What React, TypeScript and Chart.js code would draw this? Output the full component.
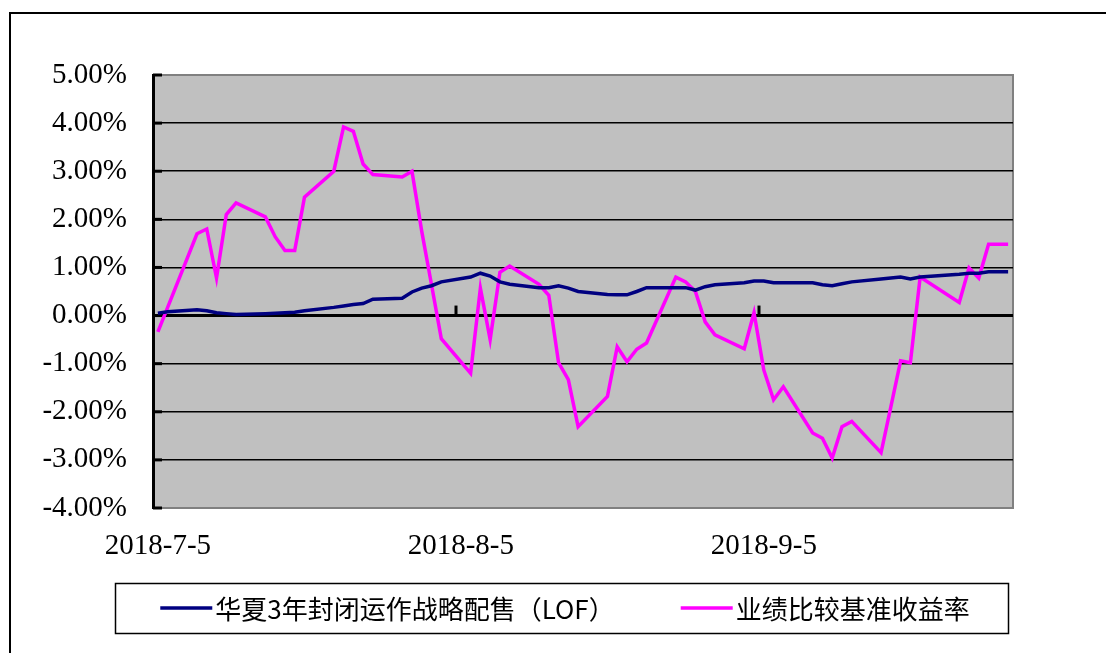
import React, { useEffect, useRef } from 'react';
import { Chart, registerables } from 'chart.js';

Chart.register(...registerables);

// Trading dates (plus period-end date)
const dates: string[] = [
  '2018-07-05', '2018-07-06', '2018-07-09', '2018-07-10', '2018-07-11', '2018-07-12', '2018-07-13',
  '2018-07-16', '2018-07-17', '2018-07-18', '2018-07-19', '2018-07-20', '2018-07-23', '2018-07-24',
  '2018-07-25', '2018-07-26', '2018-07-27', '2018-07-30', '2018-07-31',
  '2018-08-01', '2018-08-02', '2018-08-03', '2018-08-06', '2018-08-07', '2018-08-08', '2018-08-09',
  '2018-08-10', '2018-08-13', '2018-08-14', '2018-08-15', '2018-08-16', '2018-08-17', '2018-08-20',
  '2018-08-21', '2018-08-22', '2018-08-23', '2018-08-24', '2018-08-27', '2018-08-28', '2018-08-29',
  '2018-08-30', '2018-08-31',
  '2018-09-03', '2018-09-04', '2018-09-05', '2018-09-06', '2018-09-07', '2018-09-10', '2018-09-11',
  '2018-09-12', '2018-09-13', '2018-09-14', '2018-09-17', '2018-09-18', '2018-09-19', '2018-09-20',
  '2018-09-21', '2018-09-25', '2018-09-26', '2018-09-27', '2018-09-28', '2018-09-30',
];

// 华夏3年封闭运作战略配售（LOF） cumulative return, %
const fundReturn: number[] = [
  0.05, 0.08, 0.12, 0.10, 0.06, 0.04, 0.02, 0.04, 0.05, 0.06, 0.07, 0.10, 0.17, 0.20, 0.23, 0.25, 0.34, 0.36, 0.49,
  0.57, 0.62, 0.70, 0.80, 0.88, 0.82, 0.70, 0.65, 0.58, 0.58, 0.62, 0.57, 0.50, 0.44, 0.43, 0.43, 0.50, 0.58, 0.58,
  0.58, 0.53, 0.60, 0.64,
  0.68, 0.72, 0.72, 0.68, 0.68, 0.68, 0.64, 0.62, 0.66, 0.70, 0.76, 0.78, 0.80, 0.76, 0.80, 0.86, 0.88, 0.88, 0.91, 0.91,
];

// 业绩比较基准收益率, %
const benchmarkReturn: number[] = [
  -0.34, 0.17, 1.70, 1.80, 0.78, 2.10, 2.34, 2.05, 1.64, 1.35, 1.35, 2.46, 3.00, 3.92, 3.83, 3.15, 2.93, 2.88, 3.00,
  1.75, 0.64, -0.48, -1.20, 0.57, -0.50, 0.90, 1.03, 0.65, 0.42, -0.98, -1.33, -2.31, -1.68, -0.65, -0.96, -0.70,
  -0.57, 0.80, 0.70, 0.50, -0.13, -0.40,
  -0.69, 0.06, -1.13, -1.75, -1.48, -2.44, -2.55, -2.96, -2.31, -2.20, -2.85, -1.90, -0.94, -0.98, 0.80, 0.27,
  0.99, 0.78, 1.48, 1.48,
];

const xTickLabels: string[] = ['2018-7-5', '2018-8-5', '2018-9-5'];
const yMin = -4;
const yMax = 5;
const yStep = 1;

const seriesNames: string[] = ['华夏3年封闭运作战略配售（LOF）', '业绩比较基准收益率'];
const seriesColors: string[] = ['#000080', '#FF00FF'];

const DAY_MS = 86400000;
const toDay = (s: string) => {
  const [y, m, d] = s.split('-').map(Number);
  return Date.UTC(y, m - 1, d) / DAY_MS;
};
const day0 = toDay(dates[0]);
const dayIndex = dates.map((s) => toDay(s) - day0);
const tickDays = xTickLabels.map((s) => toDay(s) - day0);

const SERIF = '"Liberation Serif", "Times New Roman", serif';
const CJK = '"Noto Sans CJK SC", "Noto Sans", sans-serif';

const plotPlugin = {
  id: 'plotDecor',
  beforeDraw(chart: any) {
    const { ctx, chartArea: a } = chart;
    ctx.save();
    ctx.fillStyle = '#C0C0C0';
    ctx.fillRect(a.left, a.top, a.right - a.left, a.bottom - a.top);
    ctx.strokeStyle = '#808080';
    ctx.lineWidth = 2;
    ctx.strokeRect(a.left, a.top, a.right - a.left, a.bottom - a.top);
    ctx.restore();
  },
  beforeDatasetsDraw(chart: any) {
    const { ctx, chartArea: a, scales } = chart;
    const xs = scales.x;
    const ys = scales.y;
    const zeroY = ys.getPixelForValue(0);
    ctx.save();
    ctx.strokeStyle = '#000';
    ctx.lineWidth = 3;
    // tick marks on the category (zero) axis, at slot boundaries
    tickDays.forEach((d) => {
      const px = Math.round(xs.getPixelForValue(d - 0.5));
      if (px <= a.left + 2) return;
      ctx.beginPath();
      ctx.moveTo(px, zeroY);
      ctx.lineTo(px, zeroY - 10);
      ctx.stroke();
    });
    // value-axis tick marks (inside)
    for (let v = yMin; v <= yMax; v += yStep) {
      const py = ys.getPixelForValue(v);
      ctx.beginPath();
      ctx.moveTo(a.left, py);
      ctx.lineTo(a.left + 9, py);
      ctx.stroke();
    }
    ctx.restore();
  },
  afterDraw(chart: any) {
    const { ctx } = chart;
    const cy = 608;
    const lineLen = 52;
    const gap = 3;
    const spacing = 66;
    ctx.save();
    ctx.font = `26px ${CJK}`;
    const widths = seriesNames.map((n) => ctx.measureText(n).width);
    const total = widths.reduce((s, w) => s + lineLen + gap + w, 0) + spacing * (seriesNames.length - 1);
    const centerX = 565;
    let x = centerX - total / 2;
    const boxLeft = x - 45;
    const boxRight = centerX + total / 2 + 39;
    ctx.strokeStyle = '#000';
    ctx.lineWidth = 1.5;
    ctx.strokeRect(Math.round(boxLeft) + 0.5, 583.5, Math.round(boxRight - boxLeft), 50);
    ctx.textBaseline = 'middle';
    ctx.textAlign = 'left';
    seriesNames.forEach((n, i) => {
      ctx.strokeStyle = seriesColors[i];
      ctx.lineWidth = 3.5;
      ctx.beginPath();
      ctx.moveTo(x, cy);
      ctx.lineTo(x + lineLen, cy);
      ctx.stroke();
      ctx.fillStyle = '#000';
      ctx.fillText(n, x + lineLen + gap, cy + 1);
      x += lineLen + gap + widths[i] + spacing;
    });
    ctx.restore();
  },
};

export default function App() {
  const canvasRef = useRef<HTMLCanvasElement | null>(null);

  useEffect(() => {
    if (!canvasRef.current) return;
    const chart = new Chart(canvasRef.current, {
      type: 'line',
      data: {
        datasets: [
          {
            label: seriesNames[0],
            data: dates.map((_, i) => ({ x: dayIndex[i], y: fundReturn[i] })),
            borderColor: seriesColors[0],
            backgroundColor: seriesColors[0],
            borderWidth: 3.5,
            pointRadius: 0,
            tension: 0,
          },
          {
            label: seriesNames[1],
            data: dates.map((_, i) => ({ x: dayIndex[i], y: benchmarkReturn[i] })),
            borderColor: seriesColors[1],
            backgroundColor: seriesColors[1],
            borderWidth: 3.5,
            pointRadius: 0,
            tension: 0,
          },
        ],
      },
      options: {
        responsive: false,
        animation: false,
        devicePixelRatio: 1,
        layout: { padding: { top: 75, right: 93, bottom: 0, left: 0 } },
        plugins: {
          legend: { display: false },
          tooltip: { enabled: false },
        },
        scales: {
          x: {
            type: 'linear',
            min: dayIndex[0] - 0.5,
            max: dayIndex[dayIndex.length - 1] + 0.5,
            grid: { display: false, drawTicks: false },
            border: { display: false },
            afterBuildTicks: (scale: any) => {
              scale.ticks = tickDays.map((d) => ({ value: d }));
            },
            afterFit: (scale: any) => {
              scale.height = 145;
            },
            ticks: {
              autoSkip: false,
              maxRotation: 0,
              padding: 21,
              color: '#000',
              font: { family: SERIF, size: 29 },
              callback: (v: any) => {
                const i = tickDays.indexOf(Number(v));
                return i >= 0 ? xTickLabels[i] : '';
              },
            },
          },
          y: {
            min: yMin,
            max: yMax,
            grid: {
              drawTicks: false,
              color: (c: any) => (c.tick && (c.tick.value === yMax || c.tick.value === yMin) ? '#808080' : '#000'),
              lineWidth: (c: any) => (c.tick && c.tick.value === 0 ? 3 : c.tick && (c.tick.value === yMax || c.tick.value === yMin) ? 2 : 1.5),
            },
            border: { display: true, color: '#000', width: 3 },
            afterFit: (scale: any) => {
              scale.width = 153;
            },
            ticks: {
              stepSize: yStep,
              padding: 26,
              color: '#000',
              font: { family: SERIF, size: 29 },
              callback: (v: any) => Number(v).toFixed(2) + '%',
            },
          },
        },
      },
      plugins: [plotPlugin],
    } as any);
    return () => chart.destroy();
  }, []);

  return (
    <div style={{ position: 'fixed', left: 0, top: 0, width: 1106, height: 653, overflow: 'hidden', background: '#fff' }}>
      <div
        style={{
          position: 'absolute',
          left: 9,
          top: 12,
          width: 1300,
          height: 900,
          border: '2px solid #000',
          boxSizing: 'border-box',
        }}
      />
      <canvas
        ref={canvasRef}
        width={1106}
        height={653}
        style={{ position: 'absolute', left: 0, top: 0, width: 1106, height: 653 }}
      />
    </div>
  );
}
